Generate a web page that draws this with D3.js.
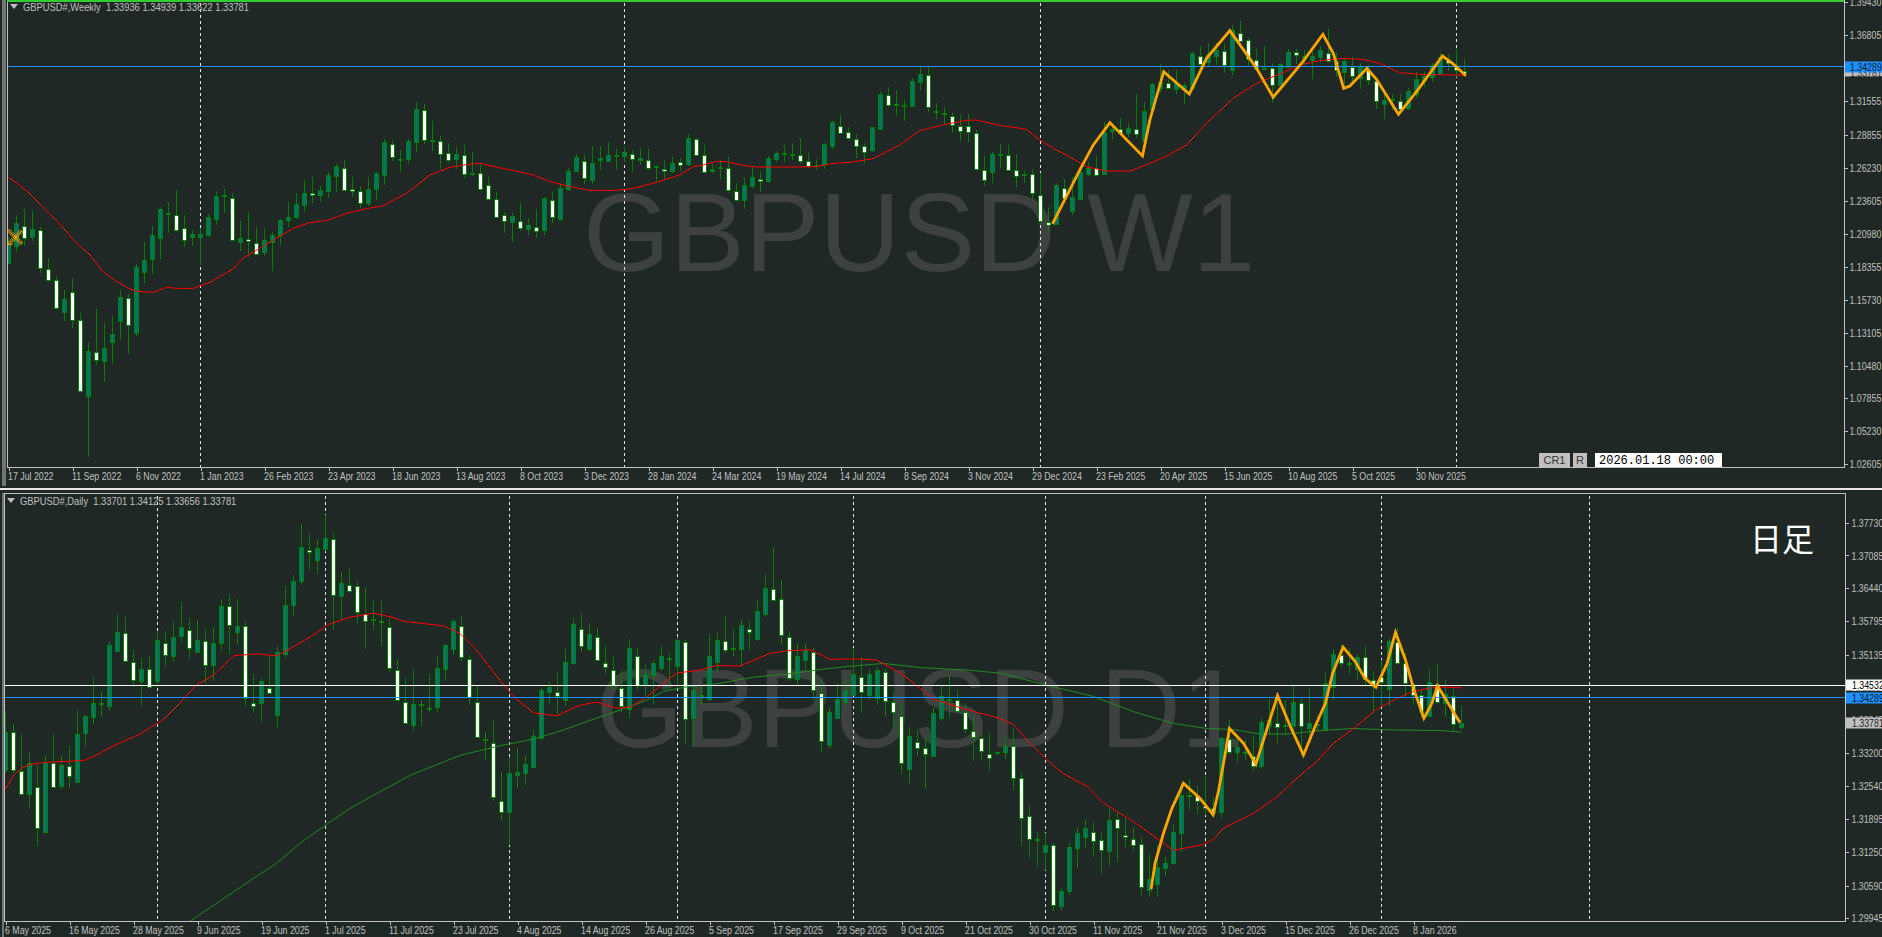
<!DOCTYPE html>
<html><head><meta charset="utf-8">
<style>html,body{margin:0;padding:0;background:#1f2825;overflow:hidden}svg{display:block}
text{font-family:"Liberation Sans",Arial,sans-serif}</style>
<script src="https://cdnjs.cloudflare.com/ajax/libs/d3/7.8.5/d3.min.js"></script></head><body>
<svg id="c" width="1882" height="937"></svg>
<script>
// ---- Weekly data (prices in 1/10000) ----
const wO=[11868,11996,12163,12070,12131,11820,11732,11477,11637,11414,
10800,11159,11079,11230,11398,11589,11302,11788,11892,12059,
12261,12251,12147,12070,12070,12083,12213,12394,12386,12030,
12059,12027,11948,12027,12083,12203,12227,12325,12426,12402,
12437,12553,12625,12458,12442,12338,12452,12561,12817,12692,
12689,12824,13088,12843,12840,12745,12689,12729,12577,12585,
12490,12378,12250,12187,12197,12131,12155,12125,12365,12210,
12450,12593,12681,12532,12683,12681,12715,12713,12737,12683,
12689,12630,12617,12601,12673,12649,12856,12729,12604,12625,
12625,12442,12370,12474,12537,12513,12691,12729,12723,12729,
12681,12636,12652,12792,12960,12912,12856,12800,12763,12931,
13207,13124,13111,13116,13305,13366,13079,13047,13039,12960,
12960,12904,12609,12585,12726,12729,12609,12564,12572,12410,
12195,12173,12466,12285,12370,12580,12625,12580,12917,12931,
12896,12931,12832,13087,13257,13302,13255,13257,13257,13518,
13462,13518,13555,13401,13701,13645,13486,13411,13422,13281,
13430,13550,13502,13483,13504,13542,13478,13390,13430,13345,
13403,13316,13127,13162,13159,13098,13212,13324,13350,13372,
13483,13443,13394];
const wH=[12075,12248,12293,12280,12150,11905,11762,11650,11743,11464,
11236,11496,11384,11443,11650,11618,11857,12030,12160,12312,
12352,12445,12248,12128,12142,12253,12437,12455,12421,12200,
12272,12150,12142,12115,12213,12352,12423,12527,12548,12479,
12588,12654,12686,12548,12479,12548,12588,12851,12846,12766,
12851,13149,13133,12995,12878,12819,12787,12803,12747,12644,
12548,12431,12272,12261,12343,12221,12293,12391,12431,12505,
12622,12734,12726,12798,12798,12830,12771,12790,12766,12782,
12771,12646,12686,12710,12702,12891,12861,12803,12654,12686,
12710,12503,12543,12628,12596,12721,12760,12803,12819,12861,
12739,12697,12819,12997,13042,12946,12891,12824,12946,13236,
13265,13244,13164,13337,13430,13430,13138,13106,13058,13042,
13053,12923,12718,12750,12814,12803,12731,12598,12612,12585,
12311,12500,12532,12553,12620,12673,12718,12992,12978,13018,
12978,13212,13146,13302,13451,13403,13403,13297,13550,13595,
13621,13616,13616,13765,13797,13656,13568,13595,13462,13462,
13568,13568,13563,13558,13595,13728,13536,13496,13510,13457,
13441,13337,13212,13212,13212,13257,13390,13390,13457,13536,
13531,13568,13494];
const wL=[11863,11956,12003,12041,11788,11717,11491,11406,11347,10840,
10322,11052,10919,11060,11252,11140,11283,11709,11778,11897,
12107,12115,11996,12001,11847,12075,12171,12261,12043,11961,
11916,11929,11921,11804,12009,12155,12213,12272,12344,12354,
12383,12434,12445,12391,12304,12320,12367,12487,12681,12591,
12654,12753,12814,12758,12615,12660,12612,12543,12559,12442,
12373,12229,12107,12035,12123,12091,12067,12091,12187,12202,
12442,12590,12497,12497,12606,12681,12606,12670,12590,12649,
12609,12511,12532,12580,12598,12641,12718,12580,12585,12537,
12426,12357,12298,12466,12434,12503,12670,12670,12686,12654,
12620,12606,12612,12776,12896,12845,12702,12665,12752,12925,
13111,13034,12997,13109,13247,13071,13015,12970,12901,12840,
12830,12598,12481,12505,12620,12601,12474,12500,12357,12189,
12102,12168,12367,12248,12367,12559,12561,12574,12851,12885,
12867,12861,12819,13085,13231,13249,13212,13132,13239,13398,
13435,13443,13382,13364,13616,13443,13403,13403,13138,13265,
13430,13451,13443,13334,13470,13467,13350,13257,13284,13249,
13284,13095,13010,13085,13058,13085,13178,13271,13308,13364,
13395,13350,13362];
const wC=[12009,12181,12070,12134,11831,11735,11512,11581,11416,10848,
11161,11097,11185,11297,11592,11376,11831,11887,12086,12293,
12267,12134,12054,12094,12094,12229,12397,12405,12054,12062,
12046,11942,12046,12086,12205,12229,12333,12421,12413,12445,
12564,12636,12452,12445,12349,12452,12580,12827,12716,12697,
12835,13090,12851,12848,12739,12692,12731,12580,12585,12460,
12381,12235,12205,12237,12141,12165,12125,12380,12229,12460,
12596,12707,12548,12665,12699,12729,12723,12747,12699,12699,
12628,12636,12604,12665,12652,12859,12729,12596,12617,12633,
12452,12373,12489,12548,12524,12699,12739,12739,12731,12683,
12644,12644,12811,12986,12907,12867,12803,12755,12946,13210,
13130,13130,13122,13313,13369,13114,13069,13058,12965,12923,
12915,12620,12532,12731,12734,12609,12564,12572,12423,12205,
12168,12484,12386,12394,12588,12625,12572,12912,12931,12899,
12938,12888,13074,13289,13305,13265,13302,13284,13536,13457,
13528,13563,13443,13722,13640,13496,13414,13422,13284,13449,
13550,13528,13515,13515,13560,13478,13403,13478,13356,13430,
13324,13154,13162,13170,13098,13233,13334,13356,13443,13510,
13457,13403,13378];
const wMaBar=[0,1.4,2.7,4.3,6.4,8.5,10.2,11.8,13.1,14.75,16,18.1,19.75,21,23.1,25.2,28.1,29.3,31.4,33.5,35.6,37.7,39.75,42.25,44.75,46.8,49.75,52.7,55.2,57.25,58.9,61.4,63.5,65.6,67.7,69.75,72.7,76,78.1,81,83.9,85.6,86.8,88.5,89.75,91.8,93.5,98.9,101,103.1,105.2,108.1,111.4,113.9,116.8,119.75,121,123.9,127.25,128.9,130.6,132.25,134.75,137.25,140.2,142.7,144.75,147.25,149.75,153.1,156,159.3,161.4,163.9,166.8,169.3,171.4,173.9,176.4,182.2];
const wMaVal=[12548,12484,12415,12309,12176,12022,11929,11796,11735,11671,11639,11631,11671,11663,11663,11711,11820,11903,11982,12062,12142,12187,12203,12261,12298,12320,12421,12567,12628,12649,12660,12623,12598,12566,12513,12481,12444,12444,12460,12508,12567,12633,12646,12675,12673,12644,12630,12630,12633,12660,12667,12697,12806,12920,12965,13002,13005,12962,12931,12845,12779,12726,12633,12598,12598,12660,12718,12806,12978,13178,13297,13382,13443,13478,13496,13488,13457,13382,13369,13361];
const wZigBar=[130.5,133.9,135.6,137.67,141.75,142.67,144.4,147.6,149.75,152.67,156,158.08,161.8,164.3,165.6,166.9,167.67,169.8,171,173.75,176,179.25,180.5,182.17];
const wZigVal=[12176,12606,12806,12984,12718,13005,13390,13212,13496,13717,13417,13186,13470,13688,13536,13257,13276,13417,13329,13050,13231,13515,13457,13358];
const wDates=["17 Jul 2022","11 Sep 2022","6 Nov 2022","1 Jan 2023","26 Feb 2023","23 Apr 2023","18 Jun 2023","13 Aug 2023","8 Oct 2023","3 Dec 2023","28 Jan 2024","24 Mar 2024","19 May 2024","14 Jul 2024","8 Sep 2024","3 Nov 2024","29 Dec 2024","23 Feb 2025","20 Apr 2025","15 Jun 2025","10 Aug 2025","5 Oct 2025","30 Nov 2025"];
const wTicks=[1.39430,1.36805,1.34180,1.31555,1.28855,1.26230,1.23605,1.20980,1.18355,1.15730,1.13105,1.10480,1.07855,1.05230,1.02605];
const wYearBars=[24,77,129,181];
// ---- Daily data (prices in 1/10000) ----
const dO=[13288,13362,13285,13240,13253,13165,13301,13255,13295,13264,
13358,13390,13417,13412,13519,13555,13498,13462,13486,13462,
13537,13512,13549,13562,13519,13541,13494,13537,13610,13559,
13570,13419,13418,13448,13396,13515,13612,13658,13719,13700,
13721,13740,13629,13651,13649,13594,13581,13577,13568,13484,
13421,13376,13414,13406,13411,13484,13524,13570,13505,13421,
13347,13340,13226,13204,13276,13280,13293,13349,13439,13439,
13423,13496,13564,13523,13549,13496,13484,13448,13406,13511,
13455,13473,13486,13504,13490,13539,13388,13434,13425,13500,
13541,13525,13524,13564,13543,13592,13643,13622,13549,13465,
13503,13519,13437,13335,13389,13420,13435,13470,13435,13429,
13480,13421,13393,13290,13342,13330,13315,13388,13425,13425,
13401,13364,13350,13317,13320,13323,13334,13271,13195,13148,
13124,13138,13018,13047,13134,13155,13165,13149,13126,13189,
13159,13151,13141,13049,13063,13094,13103,13163,13236,13236,
13216,13211,13204,13348,13323,13319,13314,13294,13373,13378,
13372,13372,13419,13369,13375,13365,13449,13513,13494,13485,
13508,13464,13469,13445,13539,13496,13456,13434,13393,13456,
13418,13431,13370];
const dH=[13403,13377,13357,13321,13296,13315,13358,13316,13333,13404,
13395,13469,13442,13541,13593,13587,13522,13506,13511,13560,
13559,13579,13616,13585,13581,13564,13567,13623,13633,13623,
13579,13475,13468,13511,13530,13648,13671,13770,13753,13741,
13789,13753,13676,13681,13658,13646,13619,13619,13585,13505,
13467,13485,13424,13475,13511,13534,13583,13589,13513,13452,
13362,13385,13282,13311,13329,13316,13366,13447,13459,13477,
13524,13585,13595,13575,13565,13530,13509,13483,13544,13526,
13492,13503,13530,13516,13549,13542,13450,13454,13554,13556,
13589,13564,13583,13579,13621,13672,13725,13660,13559,13536,
13536,13526,13467,13411,13457,13467,13526,13509,13486,13490,
13486,13437,13418,13370,13366,13352,13408,13452,13471,13444,
13418,13395,13359,13360,13322,13353,13368,13281,13218,13164,
13162,13142,13054,13142,13174,13189,13184,13162,13214,13204,
13191,13175,13154,13122,13139,13116,13181,13260,13268,13254,
13275,13234,13352,13384,13355,13345,13355,13389,13427,13434,
13424,13455,13426,13445,13395,13477,13525,13534,13527,13515,
13530,13482,13503,13546,13567,13515,13457,13444,13485,13494,
13464,13445,13413];
const dL=[13280,13280,13235,13210,13137,13161,13252,13249,13250,13263,
13332,13376,13390,13403,13519,13500,13449,13413,13446,13450,
13490,13499,13538,13505,13517,13457,13461,13521,13515,13533,
13413,13399,13381,13438,13370,13507,13589,13651,13680,13672,
13718,13561,13583,13634,13574,13524,13562,13530,13479,13423,
13378,13364,13373,13400,13401,13461,13513,13501,13414,13350,
13306,13226,13185,13139,13250,13257,13292,13345,13416,13396,
13413,13492,13519,13521,13500,13475,13444,13401,13389,13444,
13431,13414,13482,13444,13447,13338,13332,13414,13423,13480,
13517,13511,13491,13523,13541,13588,13618,13532,13462,13454,
13484,13425,13322,13328,13387,13412,13432,13399,13424,13414,
13391,13368,13278,13259,13313,13248,13311,13383,13389,13400,
13359,13305,13306,13285,13315,13308,13246,13137,13114,13096,
13090,13008,13008,13040,13094,13132,13116,13082,13098,13106,
13134,13126,13040,13037,13037,13078,13100,13124,13208,13200,
13198,13195,13191,13318,13300,13306,13285,13288,13355,13340,
13355,13362,13313,13339,13364,13364,13424,13490,13475,13464,
13449,13399,13412,13412,13493,13431,13414,13391,13391,13418,
13391,13364,13366];
const dC=[13362,13288,13240,13301,13173,13303,13254,13297,13276,13358,
13392,13418,13418,13532,13557,13500,13463,13486,13450,13542,
13514,13549,13567,13526,13543,13494,13537,13610,13572,13570,
13429,13414,13462,13439,13519,13612,13659,13725,13715,13723,
13742,13630,13654,13640,13597,13581,13583,13579,13488,13425,
13380,13417,13416,13408,13488,13532,13579,13509,13431,13352,
13348,13234,13204,13280,13282,13298,13354,13443,13449,13431,
13498,13573,13530,13553,13503,13489,13453,13412,13526,13453,
13476,13496,13510,13506,13542,13388,13443,13432,13510,13543,
13524,13526,13571,13559,13599,13644,13622,13551,13469,13511,
13523,13445,13343,13400,13427,13443,13476,13441,13476,13484,
13423,13402,13301,13354,13331,13318,13399,13431,13427,13404,
13367,13353,13324,13309,13321,13334,13272,13193,13150,13150,
13138,13019,13048,13134,13163,13172,13148,13130,13187,13172,
13155,13140,13056,13071,13096,13103,13164,13237,13237,13227,
13213,13201,13349,13323,13332,13321,13294,13380,13384,13371,
13374,13420,13374,13378,13377,13457,13514,13497,13496,13508,
13464,13453,13459,13540,13498,13456,13435,13400,13460,13420,
13435,13376,13378];
const dRedBar=[0,1,2,3.1,4.75,6.83,9.75,11.4,13.5,16.8,19.75,21.8,23.9,26,28.5,31.4,33.9,36,38.5,40.4,43.1,46,48.1,49.75,54.75,56.8,58.9,61.8,63.5,66,68.9,71.8,73.9,76.4,78.1,80.2,82.25,83.9,86.8,88.9,91.8,95.6,97.7,100.6,103.1,106,108.9,112.25,116,119.3,121.4,124.3,126,127.7,130.6,132.25,135.2,137.25,141,146,149.75,151,152.25,156,158.9,161.4,163.9,166,168.5,171.4,173.9,176,178.9,182];
const dRedVal=[13248,13276,13290,13297,13301,13303,13305,13316,13334,13357,13386,13418,13454,13473,13511,13515,13511,13529,13552,13573,13587,13595,13588,13579,13570,13555,13522,13463,13431,13399,13393,13414,13420,13408,13410,13431,13457,13477,13483,13492,13491,13516,13521,13523,13504,13505,13503,13473,13426,13409,13400,13388,13376,13345,13300,13279,13254,13221,13185,13128,13140,13150,13172,13201,13233,13270,13303,13339,13368,13406,13427,13441,13450,13448];
const dGreenBar=[23.1,30.8,33.9,36.8,40,43.1,46.4,50.6,56.8,61.8,66,69.75,74.3,76.8,80.2,82.25,85.2,88.9,93.5,97.7,101.8,105.2,109.75,114.3,120.2,124.3,130.2,136,141,146,150.2,153.5,156.8,160.2,164.3,168.5,173.5,179.3,182];
const dGreenVal=[12989,13071,13103,13142,13178,13211,13240,13276,13315,13334,13347,13365,13391,13404,13424,13441,13450,13456,13469,13475,13484,13490,13496,13488,13483,13477,13453,13431,13401,13378,13368,13366,13357,13357,13364,13368,13365,13364,13361];
const dZigBar=[143.2,143.7,144.75,145.8,147.25,149.3,150.95,151.65,152.4,153,154.75,156.3,157.7,159,160.6,162.25,163.7,165,165.9,167.2,168.7,169.9,171.3,172.7,173.75,175,176,177.3,178.3,179,180.6,181.8];
const dZigVal=[13052,13103,13162,13211,13260,13231,13198,13247,13313,13368,13339,13298,13368,13433,13372,13316,13372,13418,13477,13528,13500,13467,13449,13496,13557,13503,13447,13388,13418,13452,13411,13380];
const dDates=["6 May 2025","16 May 2025","28 May 2025","9 Jun 2025","19 Jun 2025","1 Jul 2025","11 Jul 2025","23 Jul 2025","4 Aug 2025","14 Aug 2025","26 Aug 2025","5 Sep 2025","17 Sep 2025","29 Sep 2025","9 Oct 2025","21 Oct 2025","30 Oct 2025","11 Nov 2025","21 Nov 2025","3 Dec 2025","15 Dec 2025","26 Dec 2025","8 Jan 2026"];
const dTicks=[1.37730,1.37085,1.36440,1.35795,1.35135,1.34490,1.33845,1.33200,1.32540,1.31895,1.31250,1.30590,1.29945];
const dMonthBars=[19,40,63,84,106,130,150,172,198];

const BG="#1f2825",TEAL="#00766b",GRN="#008000",SILVER="#c0c0c0",BLUE="#1e90ff",ORANGE="#ffa500",RED="#ff0000",WM="#3d4240";
const svg=d3.select("#c");
svg.append("rect").attr("width",1882).attr("height",937).attr("fill",BG);
const defs=svg.append("defs");

function panel(o){
  const x=d3.scaleLinear().domain([0,182]).range([o.x0,o.x0+1456]);
  const y=d3.scaleLinear().domain(o.yDomain).range(o.yRange);
  const id="clip"+o.name;
  defs.append("clipPath").attr("id",id).append("rect")
    .attr("x",o.left).attr("y",o.top).attr("width",o.right-o.left).attr("height",o.bottom-o.top);
  const g=svg.append("g").attr("clip-path",`url(#${id})`);
  g.append("text").attr("x",o.wmX).attr("y",o.wmY).attr("fill",WM)
    .style("font-family","'Liberation Sans',Arial,sans-serif").style("font-size","112px").text(o.wm);
  g.selectAll("line.v").data(o.seps).join("line").attr("class","v")
    .attr("x1",d=>x(d)).attr("x2",d=>x(d)).attr("y1",o.top+3).attr("y2",o.bottom)
    .attr("stroke","#e6e6e6").attr("stroke-dasharray","3,3").attr("shape-rendering","crispEdges");
  const idx=d3.range(o.O.length);
  const c=g.append("g").attr("shape-rendering","crispEdges");
  c.selectAll("line.w").data(idx).join("line").attr("class","w")
    .attr("x1",i=>x(i)).attr("x2",i=>x(i))
    .attr("y1",i=>Math.round(y(o.H[i]/1e4))).attr("y2",i=>Math.round(y(o.L[i]/1e4)))
    .attr("stroke",GRN);
  c.selectAll("rect.b").data(idx).join("rect").attr("class","b")
    .attr("x",i=>x(i)-2).attr("width",4)
    .attr("y",i=>Math.round(y(Math.max(o.O[i],o.C[i])/1e4))+.5)
    .attr("height",i=>Math.max(1,Math.round(Math.abs(y(o.O[i]/1e4)-y(o.C[i]/1e4)))))
    .attr("fill",i=>o.C[i]>=o.O[i]?TEAL:"#fff").attr("stroke",GRN);
  const ln=d3.line().x(d=>x(d[0])).y(d=>y(d[1]/1e4));
  (o.lines||[]).forEach(l=>{
    g.append("path").attr("d",ln(d3.zip(l.bar,l.val))).attr("fill","none")
      .attr("stroke",l.color).attr("stroke-width",l.w||1).attr("stroke-linejoin","round");
  });
  g.selectAll("line.h").data(o.levels).join("line").attr("class","h")
    .attr("x1",o.left).attr("x2",o.right).attr("y1",d=>Math.floor(y(d.p))+.5).attr("y2",d=>Math.floor(y(d.p))+.5)
    .attr("stroke",d=>d.c).attr("shape-rendering","crispEdges");
  g.append("path").attr("d",ln(d3.zip(o.zigBar,o.zigVal))).attr("fill","none")
    .attr("stroke",ORANGE).attr("stroke-width",2.8).attr("stroke-linejoin","miter");
  const ax=svg.append("g").attr("transform",`translate(0,${o.bottom+.5})`)
    .call(d3.axisBottom(x).tickValues(o.dates.map((_,i)=>i*8)).tickFormat(i=>o.dates[i/8]).tickSize(3).tickPadding(2));
  ax.select(".domain").remove();
  ax.selectAll("line").attr("stroke",SILVER).attr("shape-rendering","crispEdges");
  ax.selectAll("text").attr("text-anchor","start").attr("dx",-1).attr("fill",SILVER).attr("class","nar").attr("data-r",.8).style("font-size","11px").style("font-family","'Liberation Sans',sans-serif");
  const ay=svg.append("g").attr("transform",`translate(${o.right+.5},0)`)
    .call(d3.axisRight(y).tickValues(o.ticks).tickFormat(d=>d.toFixed(5)).tickSize(3).tickPadding(o.pad));
  ay.select(".domain").remove();
  ay.selectAll("line").attr("stroke",SILVER).attr("shape-rendering","crispEdges");
  ay.selectAll("text").attr("fill",SILVER).attr("class","nar").attr("data-r",.8).style("font-size","11px").style("font-family","'Liberation Sans',sans-serif");
  svg.append("rect").attr("x",o.left+.5).attr("y",o.top+.5).attr("width",o.right-o.left).attr("height",o.bottom-o.top)
    .attr("fill","none").attr("stroke",SILVER).attr("shape-rendering","crispEdges");
  svg.append("path").attr("d",`M${o.left+3} ${o.hdrY-3}h8l-4 5z`).attr("fill",SILVER);
  svg.append("text").attr("x",o.hdrX).attr("y",o.hdrY+4).attr("fill",SILVER).attr("class","nar").attr("data-r",.85).style("font-size","11px").attr("xml:space","preserve").text(o.hdr);
  o.tags.forEach(t=>{
    const cy=Math.round(y(t.p));
    svg.append("rect").attr("x",o.right+1).attr("y",cy+t.dy-5.5).attr("width",1882-o.right-1).attr("height",t.h).attr("fill",t.bg);
    svg.append("text").attr("x",o.right+o.pad+4).attr("y",cy+4).attr("fill",t.fg).attr("class","nar").attr("data-r",.8).style("font-size","11px").text(t.p.toFixed(5));
  });
  return {x,y,g};
}

const W=panel({name:"W",O:wO,H:wH,L:wL,C:wC,x0:8.5,left:7,right:1844,top:0,bottom:467,
  yDomain:[1.39430,1.02605],yRange:[2.3,464.3],ticks:wTicks,dates:wDates,seps:wYearBars,
  lines:[{bar:wMaBar,val:wMaVal,color:RED}],zigBar:wZigBar,zigVal:wZigVal,
  levels:[{p:1.34289,c:BLUE}],wm:"GBPUSD W1",wmX:583,wmY:271,pad:2,
  hdrX:23,hdrY:7,hdr:"GBPUSD#,Weekly  1.33936 1.34939 1.33622 1.33781",
  tags:[{p:1.33781,bg:SILVER,fg:"#222",dy:-2,h:11},{p:1.34289,bg:BLUE,fg:"#0a1a2a",dy:0,h:11}]});
const D=panel({name:"D",O:dO,H:dH,L:dL,C:dC,x0:5.5,left:4,right:1845,top:493,bottom:921,
  yDomain:[1.37730,1.29945],yRange:[522.7,918.3],ticks:dTicks,dates:dDates,seps:dMonthBars,
  lines:[{bar:dGreenBar,val:dGreenVal,color:"#228b22"},{bar:dRedBar,val:dRedVal,color:RED}],zigBar:dZigBar,zigVal:dZigVal,
  levels:[{p:1.34532,c:"#ffffff"},{p:1.34289,c:BLUE}],wm:"GBPUSD D1",wmX:596,wmY:747,pad:3,
  hdrX:20,hdrY:501,hdr:"GBPUSD#,Daily  1.33701 1.34125 1.33656 1.33781",
  tags:[{p:1.34532,bg:"#fff",fg:"#000",dy:0,h:11},{p:1.34289,bg:BLUE,fg:"#0a1a2a",dy:0,h:11},{p:1.33781,bg:SILVER,fg:"#222",dy:0,h:11}]});

svg.append("rect").attr("x",7).attr("y",0).attr("width",1837).attr("height",2).attr("fill","#32cd32");
svg.append("rect").attr("x",2).attr("y",0).attr("width",4).attr("height",486).attr("fill","#6f7674");
svg.append("rect").attr("x",2).attr("y",493).attr("width",2).attr("height",444).attr("fill","#6f7674");
svg.append("rect").attr("x",0).attr("y",488).attr("width",1882).attr("height",2).attr("fill","#e8e8e8");

const markerBar=[0.85],markerVal=[12070];
const mg=svg.append("g");
markerBar.forEach((b,i)=>{
  const mx=W.x(b),my=W.y(markerVal[i]/1e4);
  [[-7,-7,7,7],[-7,7,7,-7]].forEach(s=>{
    mg.append("line").attr("x1",mx+s[0]).attr("y1",my+s[1]).attr("x2",mx+s[2]).attr("y2",my+s[3])
      .attr("stroke",ORANGE).attr("stroke-width",4).attr("stroke-dasharray","1,1");
  });
  mg.append("line").attr("x1",W.x(0)-0.5).attr("x2",W.x(0.5)).attr("y1",my+7).attr("y2",my+7).attr("stroke",ORANGE);
});

const btn=[{x:1539,w:31,t:"CR1"},{x:1573,w:14,t:"R"}];
btn.forEach(b=>{
  svg.append("rect").attr("x",b.x).attr("y",453).attr("width",b.w).attr("height",14).attr("fill","#c0c0c0");
  svg.append("text").attr("x",b.x+b.w/2).attr("y",464).attr("text-anchor","middle").attr("fill","#333").style("font-size","11px").text(b.t);
});
svg.append("rect").attr("x",1595).attr("y",453).attr("width",127).attr("height",14).attr("fill","#fff");
svg.append("text").attr("x",1599).attr("y",464).attr("fill","#000").style("font-family","'Liberation Mono',monospace").style("font-size","12px").text("2026.01.18 00:00");
svg.append("text").attr("x",1750).attr("y",551).attr("fill","#fff").style("font-family","'Noto Sans CJK JP',sans-serif").style("font-size","32px").text("日足");

// Tahoma-like narrow small text
svg.selectAll("text.nar").each(function(){
  const r=+this.getAttribute("data-r");
  this.setAttribute("textLength",(this.getComputedTextLength()*r).toFixed(1));
  this.setAttribute("lengthAdjust","spacingAndGlyphs");
});
</script></body></html>
